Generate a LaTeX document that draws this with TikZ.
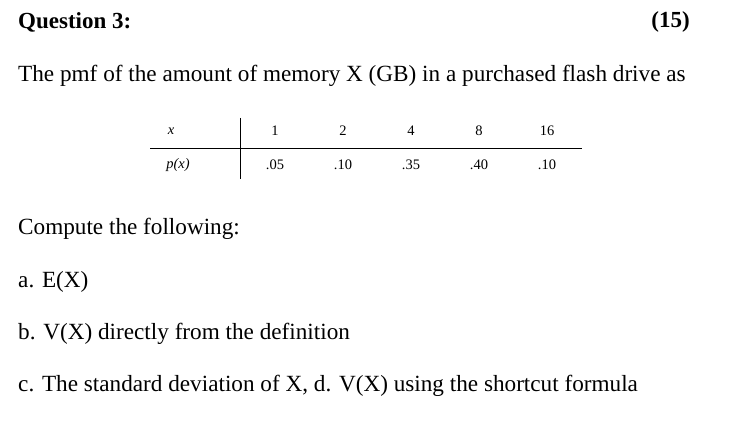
\documentclass[tikz,border=0pt]{standalone}
\usepackage{fontspec}
\setmainfont{Liberation Serif}
\begin{document}
\begin{tikzpicture}[x=1pt,y=-1pt,
  txt/.style={anchor=west,inner sep=0pt,font=\fontsize{23.2}{26}\selectfont},
  cell/.style={inner sep=0pt,font=\fontsize{14.5}{17}\selectfont},
  rule/.style={line width=0.7pt}]
\useasboundingbox (0,0) rectangle (742,430);
\node[txt,font=\fontsize{23}{26}\bfseries] (q) at (18,22) {Question 3:};
\node[anchor=east,inner sep=0pt,font=\fontsize{23}{26}\bfseries] (pts) at (690,22) {(15)};
\node[txt] (t1) at (18,76) {The pmf of the amount of memory X (GB) in a purchased flash drive as};
\node[cell] (hx) at (171,131) {\itshape x};
\node[cell] (hp) at (178,165) {\itshape p(x)};
\foreach \n/\x/\a/\b in {1/275/1/.05,2/343/2/.10,3/411/4/.35,4/479/8/.40,5/547/16/.10}{
  \node[cell] (a\n) at (\x,131) {\a};
  \node[cell] (b\n) at (\x,165) {\b};
}
\coordinate (vt) at (240,118); \coordinate (vb) at (240,179);
\coordinate (hl) at (150,148); \coordinate (hr) at (582,148);
\draw[rule] (vt) -- (vb);
\draw[rule] (hl) -- (hr);
\node[txt] (c) at (18,229) {Compute the following:};
\node[txt] (a) at (18,282) {a. E(X)};
\node[txt] (b) at (18,334) {b. V(X) directly from the definition};
\node[txt] (cc) at (18,386) {c. The standard deviation of X, d. V(X) using the shortcut formula};
\end{tikzpicture}
\end{document}
